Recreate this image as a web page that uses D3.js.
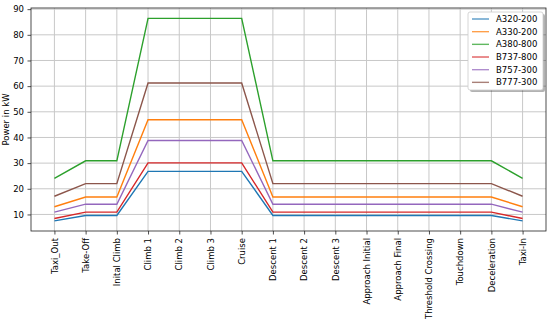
<!DOCTYPE html>
<html>
<head>
<meta charset="utf-8">
<script src="https://cdn.jsdelivr.net/npm/d3@7"></script>
<style>
  body { margin: 0; background: #fff; }
  svg { font-family: "DejaVu Sans", sans-serif; }
</style>
</head>
<body>
<div id="chart"></div>
<script>
const phases = ["Taxi_Out", "Take-Off", "Inital Climb", "Climb 1", "Climb 2", "Climb 3", "Cruise",
    "Descent 1", "Descent 2", "Descent 3", "Approach Initial", "Approach Final",
    "Threshold Crossing", "Touchdown", "Deceleration", "Taxi-In"];

const aircraft = ["A320-200", "A330-200", "A380-800", "B737-800", "B757-300", "B777-300"];
const colors = ["#1f77b4", "#ff7f0e", "#2ca02c", "#d62728", "#9467bd", "#8c564b"];

const a320 = [7.5, 9.6, 9.6, 26.8, 26.8, 26.8, 26.8, 9.6, 9.6, 9.6, 9.6, 9.6, 9.6, 9.6, 9.6, 7.5];
const a330 = [13.0, 16.8, 16.8, 46.9, 46.9, 46.9, 46.9, 16.8, 16.8, 16.8, 16.8, 16.8, 16.8, 16.8, 16.8, 13.0];
const a380 = [24.1, 30.9, 30.9, 86.4, 86.4, 86.4, 86.4, 30.9, 30.9, 30.9, 30.9, 30.9, 30.9, 30.9, 30.9, 24.1];
const b737 = [8.4, 10.9, 10.9, 30.1, 30.1, 30.1, 30.1, 10.9, 10.9, 10.9, 10.9, 10.9, 10.9, 10.9, 10.9, 8.4];
const b757 = [10.9, 14.0, 14.0, 38.8, 38.8, 38.8, 38.8, 14.0, 14.0, 14.0, 14.0, 14.0, 14.0, 14.0, 14.0, 10.9];
const b777 = [17.1, 22.0, 22.0, 61.2, 61.2, 61.2, 61.2, 22.0, 22.0, 22.0, 22.0, 22.0, 22.0, 22.0, 22.0, 17.1];

const series = [a320, a330, a380, b737, b757, b777];
const yTicks = [10, 20, 30, 40, 50, 60, 70, 80, 90];

const width = 550, height = 324;
const margin = { top: 8, right: 4, bottom: 93, left: 31 };
const fontSize = "8.5px";

const svg = d3.select("#chart")
    .append("svg")
    .attr("width", width)
    .attr("height", height)
    .attr("viewBox", [0, 0, width, height]);

// matplotlib-style 5% padding on both axes
const xScale = d3.scaleLinear()
    .domain([-0.75, phases.length - 1 + 0.75])
    .range([margin.left, width - margin.right]);

const yScale = d3.scaleLinear()
    .domain([3.55, 90.45])
    .range([height - margin.bottom, margin.top]);

const plotBottom = height - margin.bottom;

// grid
const grid = svg.append("g").attr("stroke", "#c8c8c8").attr("stroke-width", 1);
grid.selectAll(".gx")
    .data(d3.range(phases.length))
    .join("line")
    .attr("x1", i => xScale(i)).attr("x2", i => xScale(i))
    .attr("y1", margin.top).attr("y2", plotBottom);
grid.selectAll(".gy")
    .data(yTicks)
    .join("line")
    .attr("x1", margin.left).attr("x2", width - margin.right)
    .attr("y1", d => yScale(d)).attr("y2", d => yScale(d));

// lines
const line = d3.line()
    .x((d, i) => xScale(i))
    .y(d => yScale(d));

svg.append("g")
    .selectAll("path")
    .data(series)
    .join("path")
    .attr("fill", "none")
    .attr("stroke", (d, i) => colors[i])
    .attr("stroke-width", 1.4)
    .attr("d", line);

// frame
svg.append("rect")
    .attr("x", margin.left).attr("y", margin.top)
    .attr("width", width - margin.right - margin.left)
    .attr("height", plotBottom - margin.top)
    .attr("fill", "none")
    .attr("stroke", "#222")
    .attr("stroke-width", 0.8);

// y axis
svg.append("g")
    .attr("transform", `translate(${margin.left},0)`)
    .style("font-family", "DejaVu Sans")
    .style("font-size", fontSize)
    .call(d3.axisLeft(yScale).tickValues(yTicks).tickSize(3.5).tickPadding(3.5))
    .call(g => g.select(".domain").remove())
    .call(g => g.selectAll(".tick line").attr("stroke", "#222").attr("stroke-width", 0.8))
    .call(g => g.selectAll(".tick text").attr("fill", "#000"));

// x axis
svg.append("g")
    .attr("transform", `translate(0,${plotBottom})`)
    .style("font-family", "DejaVu Sans")
    .style("font-size", fontSize)
    .call(d3.axisBottom(xScale)
        .tickValues(d3.range(phases.length))
        .tickFormat(i => phases[i])
        .tickSize(3.5)
        .tickPadding(3.5))
    .call(g => g.select(".domain").remove())
    .call(g => g.selectAll(".tick line").attr("stroke", "#222").attr("stroke-width", 0.8))
    .call(g => g.selectAll(".tick text")
        .attr("fill", "#000")
        .attr("transform", "rotate(-90)")
        .attr("text-anchor", "end")
        .attr("x", -7)
        .attr("y", 0)
        .attr("dy", "0.32em"));

// y label
svg.append("text")
    .attr("transform", `translate(9,${(margin.top + plotBottom) / 2}) rotate(-90)`)
    .attr("text-anchor", "middle")
    .style("font-size", fontSize)
    .text("Power in kW");

// legend
const lg = svg.append("g").attr("transform", "translate(468,12)");
const lw = 75, lh = 78;
lg.append("rect")
    .attr("x", 2).attr("y", 2)
    .attr("width", lw).attr("height", lh)
    .attr("rx", 2)
    .attr("fill", "#000").attr("fill-opacity", 0.3);
lg.append("rect")
    .attr("width", lw).attr("height", lh)
    .attr("rx", 2)
    .attr("fill", "#fff")
    .attr("stroke", "#cccccc")
    .attr("stroke-width", 0.8);

const item = lg.selectAll(".item")
    .data(aircraft)
    .join("g")
    .attr("transform", (d, i) => `translate(0,${7 + i * 12.67})`);
item.append("line")
    .attr("x1", 4).attr("x2", 21)
    .attr("stroke", (d, i) => colors[i])
    .attr("stroke-opacity", 0.75)
    .attr("stroke-width", 1.4);
item.append("text")
    .attr("x", 28)
    .attr("dy", "0.35em")
    .style("font-size", fontSize)
    .text(d => d);
</script>
</body>
</html>
